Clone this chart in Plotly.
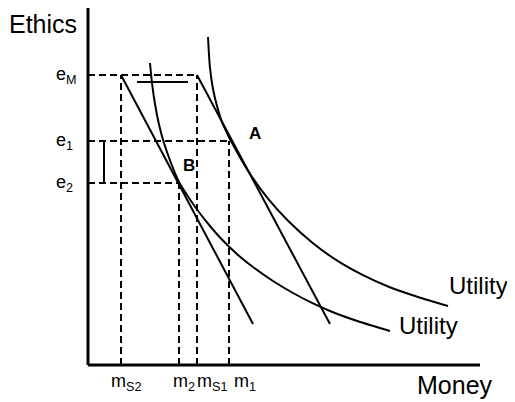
import plotly.graph_objects as go

# Levels on the axes (units: ethics up, money right)
e_levels = {"eM": 290, "e1": 224, "e2": 182}
m_levels = {"mS2": 33, "m2": 91, "mS1": 109, "m1": 141}

axis_x_max = 392
axis_y_max = 358

# Indifference curves
u_low_x = [62, 64, 67, 71, 76, 83, 91, 101, 112, 122, 132, 150, 165, 185, 205, 225, 245, 270, 302]
u_low_y = [302, 282, 261, 240.5, 222, 202, 183, 167, 151.5, 139, 127.5, 110, 98, 84, 72, 61.6, 52.8, 43.8, 34]
u_high_x = [120, 122, 125, 129, 134, 139, 143, 160, 180, 200, 225, 250, 275, 300, 330, 360]
u_high_y = [328, 297, 276, 259, 243, 232, 224, 194.3, 166.3, 144.3, 121.8, 103.8, 89.8, 78.5, 68, 59]

# Budget lines
budget1_x = [33, 165]
budget1_y = [290, 41]
budget2_x = [109, 242]
budget2_y = [290, 41]

# Small extra segments
bracket_x = [16, 16]
bracket_y = [224, 182]
short_x = [49, 100]
short_y = [283, 283]

BLACK = "#000000"
FONT = "Liberation Sans, Arial, sans-serif"

fig = go.Figure()

def seg(x, y, width=2, dash=None, shape="linear"):
    fig.add_trace(go.Scatter(
        x=x, y=y, mode="lines",
        line=dict(color=BLACK, width=width, dash=dash, shape=shape, smoothing=0.8),
        hoverinfo="skip", showlegend=False))

eM, e1, e2 = e_levels["eM"], e_levels["e1"], e_levels["e2"]
mS2, m2, mS1, m1 = m_levels["mS2"], m_levels["m2"], m_levels["mS1"], m_levels["m1"]

D = "7px,4px"
# dashed guides
seg([0, mS1], [eM, eM], 2, D)
seg([0, m1], [e1, e1], 2, D)
seg([0, m2], [e2, e2], 2, D)
seg([mS2, mS2], [0, eM], 2, D)
seg([m2, m2], [0, e2], 2, D)
seg([mS1, mS1], [0, eM], 2, D)
seg([m1, m1], [0, e1], 2, D)

# axes
seg([0, 0], [0, axis_y_max], 3)
seg([0, axis_x_max], [0, 0], 3)

# budget lines
seg(budget1_x, budget1_y, 2)
seg(budget2_x, budget2_y, 2)

# curves
seg(u_low_x, u_low_y, 2, None, "spline")
seg(u_high_x, u_high_y, 2, None, "spline")

# extra segments
seg(bracket_x, bracket_y, 2)
seg(short_x, short_y, 2)

ann = []
def text(x, y, t, size, xanchor="center", bold=False, xshift=0):
    ann.append(dict(x=x, y=y, xref="x", yref="y", text=("<b>%s</b>" % t) if bold else t,
                    showarrow=False, xanchor=xanchor, yanchor="middle", xshift=xshift,
                    font=dict(family=FONT, size=size, color=BLACK)))

text(-79, 341, "Ethics", 25, "left", xshift=-2)
text(367, -20, "Money", 25, "center")
text(390, 80, "Utility", 24, "center")
text(340, 40, "Utility", 24, "center")
text(-34, eM, "e<sub>M</sub>", 18, "left")
text(-34, e1, "e<sub>1</sub>", 18, "left")
text(-34, e2, "e<sub>2</sub>", 18, "left")
text(mS2, -17, "m<sub>S2</sub>", 18, "center", xshift=5)
text(m2, -17, "m<sub>2</sub>", 18, "center", xshift=5)
text(mS1, -17, "m<sub>S1</sub>", 18, "center", xshift=15)
text(m1, -17, "m<sub>1</sub>", 18, "center", xshift=16)
text(m1 + 26, e1 + 8, "A", 17, "center", bold=True)
text(m2 + 10, e2 + 18, "B", 17, "center", bold=True)

# page body has an 8px margin: the figure starts 8px right and 8px down
fig.update_layout(
    width=507, height=394,
    margin=dict(l=0, r=0, t=0, b=0),
    paper_bgcolor="white", plot_bgcolor="white",
    xaxis=dict(range=[-80, 427], visible=False, fixedrange=True),
    yaxis=dict(range=[-37, 357], visible=False, fixedrange=True),
    annotations=ann,
    showlegend=False,
)

fig.write_html("out.html")
